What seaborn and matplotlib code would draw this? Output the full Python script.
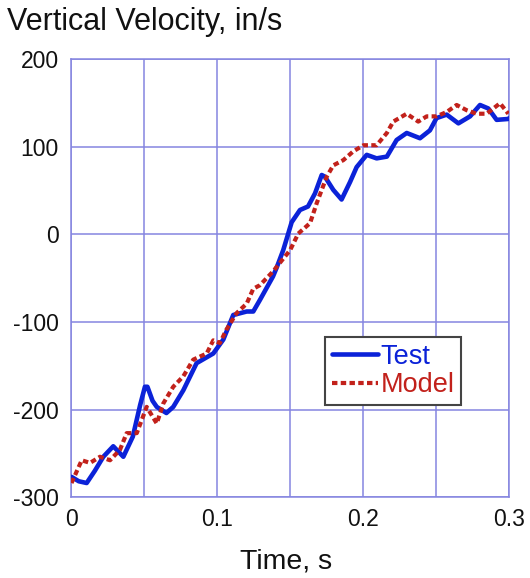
import matplotlib
matplotlib.use("Agg")
import matplotlib.pyplot as plt
import seaborn as sns
import pandas as pd

# Measured vertical velocity (test) and simulated response (model)
test_time = [0.000, 0.005, 0.0104, 0.016, 0.0218, 0.0286, 0.0355, 0.042, 0.047,
             0.0503, 0.052, 0.0555, 0.0584, 0.065, 0.0697, 0.0766, 0.0857, 0.0971,
             0.104, 0.1108, 0.120, 0.1245, 0.129, 0.138, 0.1405, 0.145, 0.1508,
             0.1565, 0.162, 0.1668, 0.1714, 0.1736, 0.1793, 0.185, 0.1908, 0.1953,
             0.2022, 0.209, 0.216, 0.2227, 0.2296, 0.2387, 0.2455, 0.250, 0.257,
             0.265, 0.273, 0.2798, 0.2855, 0.2912, 0.299, 0.300]
test_vel = [-277, -282, -284, -270, -254, -242, -254, -231, -195,
            -174, -174, -190, -197, -204, -197, -178, -147, -136,
            -120, -92, -88, -88, -75, -48, -38, -18, 14,
            28, 32, 47, 68, 66, 51, 40, 60, 77,
            91, 87, 89, 108, 116, 110, 119, 133, 137,
            127, 135, 148, 144, 131, 132, 133]

model_time = [0.000, 0.007, 0.0127, 0.0195, 0.0264, 0.0332, 0.0378, 0.0447, 0.0515,
              0.0584, 0.0629, 0.0697, 0.0766, 0.0834, 0.0926, 0.0971, 0.1017, 0.106,
              0.113, 0.120, 0.1245, 0.129, 0.1382, 0.1405, 0.1497, 0.1553, 0.1634,
              0.168, 0.1748, 0.1793, 0.1862, 0.193, 0.200, 0.209, 0.216, 0.2204,
              0.2296, 0.2375, 0.2433, 0.250, 0.257, 0.2638, 0.2707, 0.2775, 0.2844,
              0.2935, 0.2992]
model_vel = [-284, -258, -261, -254, -258, -246, -227, -227, -197,
             -216, -193, -174, -162, -143, -136, -121, -124, -109,
             -90, -79, -62, -58, -42, -37, -18, 1, 13,
             36, 66, 79, 85, 95, 102, 102, 116, 129,
             138, 129, 135, 135, 140, 148, 142, 138, 138,
             150, 138]

x_ticks = [0, 0.05, 0.1, 0.15, 0.2, 0.25, 0.3]
x_tick_labels = ["0", "", "0.1", "", "0.2", "", "0.3"]
y_ticks = [-300, -200, -100, 0, 100, 200]

TEST_COLOR = "#0b22d8"
MODEL_COLOR = "#c2211b"
GRID_COLOR = "#8585e0"

sns.set_theme(style="white")
plt.rcParams["font.family"] = ["Liberation Sans", "DejaVu Sans"]

fig = plt.figure(figsize=(5.30, 5.78), dpi=100)
ax = fig.add_axes([0.1349, 0.1401, 0.8264, 0.7570])

test_df = pd.DataFrame({"Time": test_time, "Velocity": test_vel})
model_df = pd.DataFrame({"Time": model_time, "Velocity": model_vel})

sns.lineplot(data=test_df, x="Time", y="Velocity", ax=ax, color=TEST_COLOR,
             lw=3.3, label="Test", sort=False, zorder=3)
sns.lineplot(data=model_df, x="Time", y="Velocity", ax=ax, color=MODEL_COLOR,
             lw=3.0, label="Model", sort=False, zorder=4,
             linestyle=(0, (1.3, 0.8)))

ax.set_xlim(0, 0.3)
ax.set_ylim(-300, 200)
ax.set_xticks(x_ticks)
ax.set_xticklabels(x_tick_labels)
ax.set_yticks(y_ticks)
ax.set_yticklabels([str(v) for v in y_ticks])
ax.tick_params(axis="both", length=0, labelsize=16.5, colors="#111111")
ax.tick_params(axis="x", pad=8)
ax.tick_params(axis="y", pad=9)
ax.grid(True, color=GRID_COLOR, lw=1.1)
ax.set_axisbelow(True)
for sp in ax.spines.values():
    sp.set_color(GRID_COLOR)
    sp.set_linewidth(1.1)
ax.set_xlabel("")
ax.set_ylabel("")

leg = ax.legend(loc="upper left", bbox_to_anchor=(0.579, 0.366),
                borderaxespad=0, fontsize=19.5, frameon=True, fancybox=False,
                handlelength=1.7, handletextpad=0.1, labelspacing=0.1,
                borderpad=0.25)
leg.get_frame().set_edgecolor("#444444")
leg.get_frame().set_linewidth(1.5)
leg.get_frame().set_alpha(1)
for txt, col in zip(leg.get_texts(), [TEST_COLOR, MODEL_COLOR]):
    txt.set_color(col)

fig.text(0.013, 1 - 30 / 578, "Vertical Velocity, in/s", fontsize=22,
         ha="left", va="baseline", color="#111111")
fig.text(0.54, 1 - 568 / 578, "Time, s", fontsize=20.5,
         ha="center", va="baseline", color="#111111")

fig.savefig("out.png", dpi=100, facecolor="white")
